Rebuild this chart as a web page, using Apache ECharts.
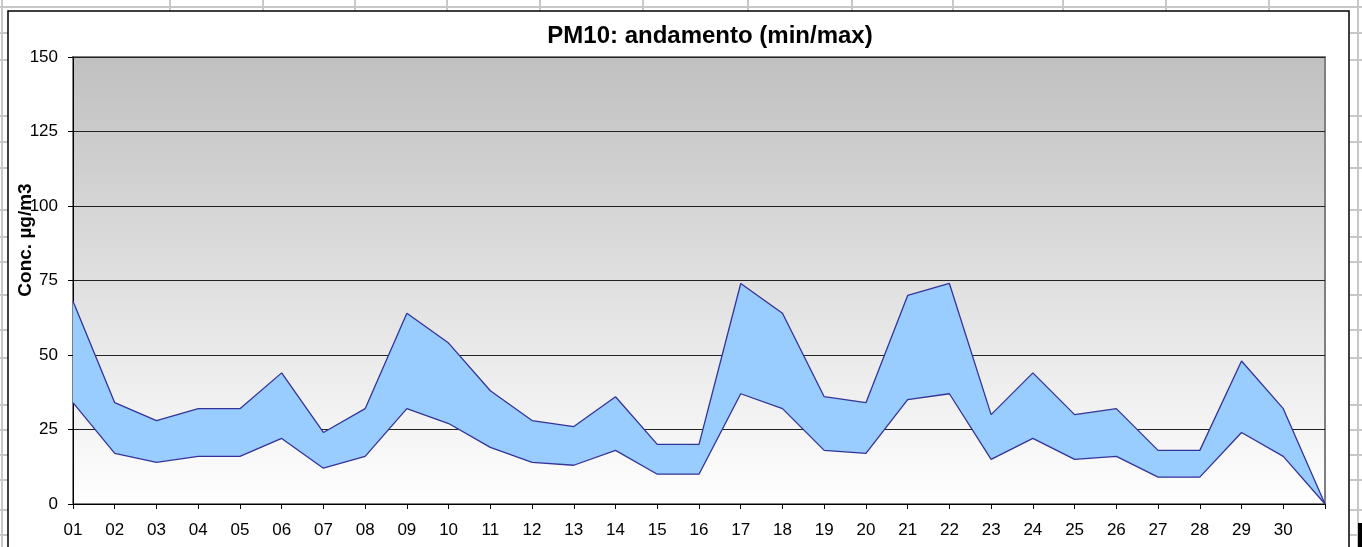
<!DOCTYPE html>
<html>
<head>
<meta charset="utf-8">
<title>PM10: andamento (min/max)</title>
<script src="https://cdn.jsdelivr.net/npm/echarts@6/dist/echarts.min.js"></script>
<style>
  html, body { margin: 0; padding: 0; background: #fff; }
  #chart_box { width: 1362px; height: 547px; }
</style>
</head>
<body>
<div id="chart_box"></div>
<script>
// giorni del mese (l'ultimo punto non ha etichetta)
var days = ['01', '02', '03', '04', '05', '06', '07', '08', '09', '10',
  '11', '12', '13', '14', '15', '16', '17', '18', '19', '20',
  '21', '22', '23', '24', '25', '26', '27', '28', '29', '30', '']

// concentrazioni minime e massime (µg/m3)
var minValues = [34, 17, 14, 16, 16, 22, 12, 16, 32, 27,
  19, 14, 13, 18, 10, 10, 37, 32, 18, 17,
  35, 37, 15, 22, 15, 16, 9, 9, 24, 16, 0]
var maxValues = [68, 34, 28, 32, 32, 44, 24, 32, 64, 54,
  38, 28, 26, 36, 20, 20, 74, 64, 36, 34,
  70, 74, 30, 44, 30, 32, 18, 18, 48, 32, 0]

var yTicks = { min: 0, max: 150, step: 25 }

// banda = max - min, impilata sopra la serie dei minimi
var bandValues = maxValues.map(function (v, i) { return v - minValues[i] })

var chartDom = document.getElementById('chart_box')
var myChart = echarts.init(chartDom)
var font = 'Liberation Sans, Arial, sans-serif'
var lineBlue = '#333399'

// griglia del foglio di calcolo dietro al grafico
var sheetLines = []
var colX = [170, 263, 355, 447, 540, 643, 748, 852, 953, 1063, 1166, 1269]
colX.forEach(function (x) {
  sheetLines.push({ type: 'line', shape: { x1: x, y1: 0, x2: x, y2: 11 }, style: { stroke: '#c8c8c8', lineWidth: 2 }, silent: true, z: -10 })
})
var rowY = [33, 60, 116, 142, 168, 210, 237, 262, 295, 330, 358, 405, 430, 455, 480, 510, 535]
rowY.forEach(function (y) {
  sheetLines.push({ type: 'line', shape: { x1: 0, y1: y, x2: 8, y2: y }, style: { stroke: '#c8c8c8', lineWidth: 2 }, silent: true, z: -10 })
  sheetLines.push({ type: 'line', shape: { x1: 1350, y1: y, x2: 1362, y2: y }, style: { stroke: '#c8c8c8', lineWidth: 2 }, silent: true, z: -10 })
})
sheetLines.push({ type: 'line', shape: { x1: 0, y1: 7, x2: 1362, y2: 7 }, style: { stroke: '#c8c8c8', lineWidth: 2 }, silent: true, z: -10 })
sheetLines.push({ type: 'line', shape: { x1: 2, y1: 0, x2: 2, y2: 547 }, style: { stroke: '#c8c8c8', lineWidth: 2 }, silent: true, z: -10 })
sheetLines.push({ type: 'line', shape: { x1: 1358, y1: 0, x2: 1358, y2: 547 }, style: { stroke: '#c8c8c8', lineWidth: 2 }, silent: true, z: -10 })
sheetLines.push({ type: 'rect', shape: { x: 8, y: 11, width: 1341, height: 560 }, style: { fill: '#fff', stroke: '#000', lineWidth: 1.5 }, silent: true, z: -9 })
sheetLines.push({ type: 'rect', shape: { x: 1358, y: 523, width: 4, height: 24 }, style: { fill: '#000' }, silent: true, z: -9 })

var option = {
  animation: false,
  backgroundColor: '#fff',
  textStyle: { fontFamily: font },
  title: {
    text: 'PM10: andamento (min/max)',
    left: 705,
    top: 19,
    textAlign: 'center',
    textStyle: { fontFamily: font, fontSize: 24, fontWeight: 'bold', color: '#000' }
  },
  graphic: sheetLines.concat([
    {
      type: 'text',
      x: 26,
      y: 240,
      rotation: Math.PI / 2,
      z: 10,
      style: {
        text: 'Conc. µg/m3',
        font: 'bold 19px ' + font,
        fill: '#000',
        align: 'center',
        verticalAlign: 'middle'
      }
    }
  ]),
  grid: {
    left: 73,
    right: 37,
    top: 57,
    bottom: 43,
    show: true,
    borderColor: '#808080',
    borderWidth: 2,
    backgroundColor: {
      type: 'linear', x: 0, y: 0, x2: 0, y2: 1,
      colorStops: [
        { offset: 0, color: '#c0c0c0' },
        { offset: 1, color: '#ffffff' }
      ]
    },
    z: 0
  },
  xAxis: {
    type: 'category',
    boundaryGap: false,
    data: days,
    z: 3,
    axisLine: { lineStyle: { color: '#000', width: 1 } },
    axisTick: { show: true, interval: 0, length: 5, lineStyle: { color: '#000' } },
    axisLabel: { interval: 0, margin: 18, fontSize: 17, color: '#000', fontFamily: font },
    splitLine: { show: false }
  },
  yAxis: {
    type: 'value',
    min: yTicks.min,
    max: yTicks.max,
    interval: yTicks.step,
    z: 1,
    axisLine: { show: true, lineStyle: { color: '#000', width: 1 } },
    axisTick: { show: true, length: 5, lineStyle: { color: '#000' } },
    axisLabel: { margin: 15, fontSize: 17, color: '#000', fontFamily: font },
    splitLine: { show: true, lineStyle: { color: '#222', width: 1 } }
  },
  series: [
    {
      name: 'min',
      type: 'line',
      stack: 'band',
      data: minValues,
      symbol: 'none',
      z: 5,
      lineStyle: { color: lineBlue, width: 1.3 }
    },
    {
      name: 'max',
      type: 'line',
      stack: 'band',
      data: bandValues,
      symbol: 'none',
      z: 4,
      lineStyle: { color: lineBlue, width: 1.3 },
      areaStyle: { color: '#99ccff', opacity: 1 }
    }
  ]
}

option && myChart.setOption(option)
</script>
</body>
</html>
